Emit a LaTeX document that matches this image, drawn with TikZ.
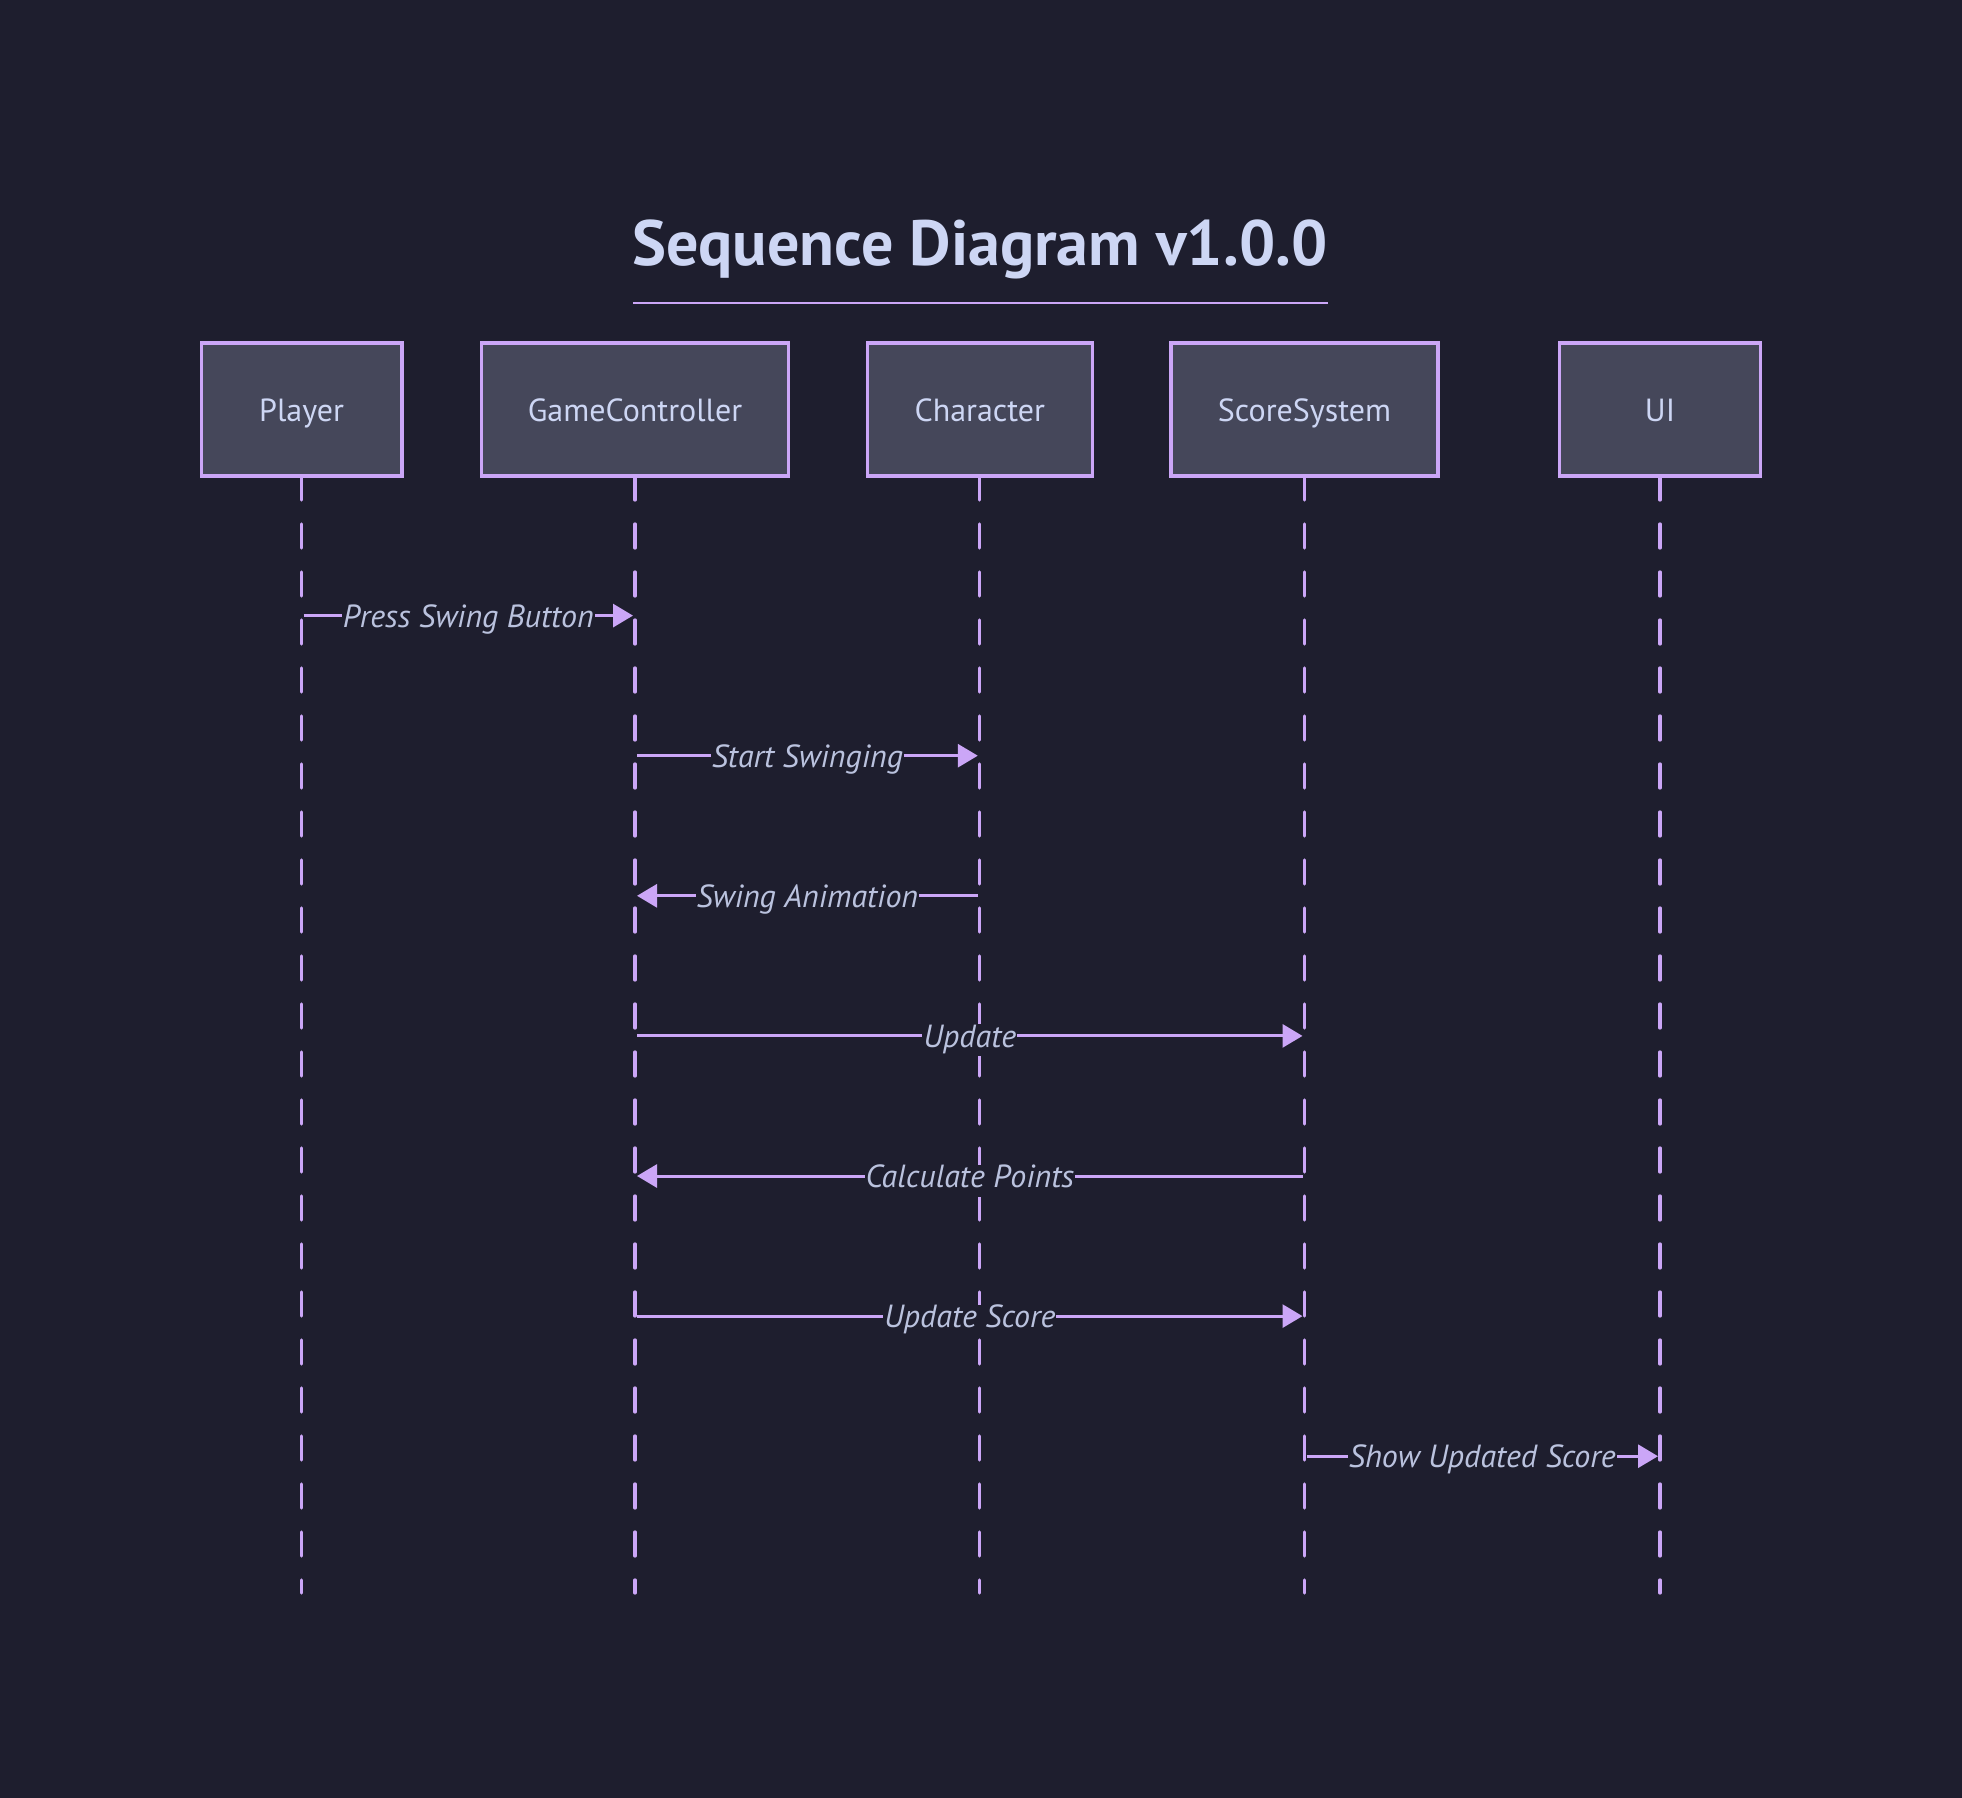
\documentclass[tikz,border=0pt]{standalone}
\usepackage{fontspec}
\setmainfont{PT Sans}
\usetikzlibrary{arrows.meta}
\definecolor{bg}{HTML}{1E1E2E}
\definecolor{surf}{HTML}{45475A}
\definecolor{mauve}{HTML}{CBA6F7}
\definecolor{txt}{HTML}{CDD6F4}
\definecolor{sub}{HTML}{BAC2DE}
\begin{document}
\begin{tikzpicture}[x=1pt,y=-1pt,
  actor/.style={draw=mauve, line width=3.3pt, fill=surf, text=txt,
    font=\fontsize{32}{36}\selectfont, minimum height=133pt, inner sep=0pt,
    text height=30pt, text depth=7pt},
  life/.style={draw=mauve, line width=3.3pt, dash pattern=on 24pt off 24pt, line cap=round},
  msg/.style={draw=mauve, line width=3pt, shorten <=2pt, shorten >=2pt,
    -{Triangle[length=20pt,width=23pt]}},
  lbl/.style={fill=bg, text=sub, font=\fontsize{32}{36}\selectfont\itshape,
    inner xsep=1pt, inner ysep=0pt, text height=23pt, text depth=9pt,
    anchor=base, yshift=-11.5pt}]
\fill[bg] (0,0) rectangle (1962,1798);
\useasboundingbox (0,0) rectangle (1962,1798);
% title
\node[font=\fontsize{64}{72}\selectfont\bfseries, text=txt, anchor=base, inner sep=0pt]
  (title) at (979.8,265) {Sequence Diagram v1.0.0};
\coordinate (ulA) at (633,302.7);
\coordinate (ulB) at (1328,302.7);
\draw[mauve, line width=2pt] (ulA) -- (ulB);
% actor positions (centres)
\coordinate (cpl) at (301.6,409.5);
\coordinate (cgc) at (635.0,409.5);
\coordinate (cch) at (979.8,409.5);
\coordinate (css) at (1304.5,409.5);
\coordinate (cui) at (1660.0,409.5);
% lifelines
\foreach \c/\n in {cpl/pl,cgc/gc,cch/ch,css/ss,cui/ui}{
  \coordinate (\n top) at ([yshift=-66.5pt]\c);
  \coordinate (\n end) at (\c |- 0,1593);
  \draw[life] (\n top) -- (\n end);
}
% actors
\node[actor, minimum width=200.5pt] (pl) at (cpl) {Player};
\node[actor, minimum width=306.5pt] (gc) at (cgc) {GameController};
\node[actor, minimum width=225.2pt] (ch) at (cch) {Character};
\node[actor, minimum width=267pt]   (ss) at (css) {ScoreSystem};
\node[actor, minimum width=201.5pt] (ui) at (cui) {UI};
% message anchor points
\foreach \k/\y in {1/615.6,2/755.7,3/895.8,4/1035.9,5/1176,6/1316.1,7/1456.2}{
  \foreach \n in {pl,gc,ch,ss,ui}{
    \coordinate (\n\k) at (\n.south |- 0,\y);
  }
}
% messages
\draw[msg] (pl1) -- (gc1) node[lbl, midway] {Press Swing Button};
\draw[msg] (gc2) -- (ch2) node[lbl, midway] {Start Swinging};
\draw[msg] (ch3) -- (gc3) node[lbl, midway] {Swing Animation};
\draw[msg] (gc4) -- (ss4) node[lbl, midway] {Update};
\draw[msg] (ss5) -- (gc5) node[lbl, midway] {Calculate Points};
\draw[msg] (gc6) -- (ss6) node[lbl, midway] {Update Score};
\draw[msg] (ss7) -- (ui7) node[lbl, midway] {Show Updated Score};
\end{tikzpicture}
\end{document}
